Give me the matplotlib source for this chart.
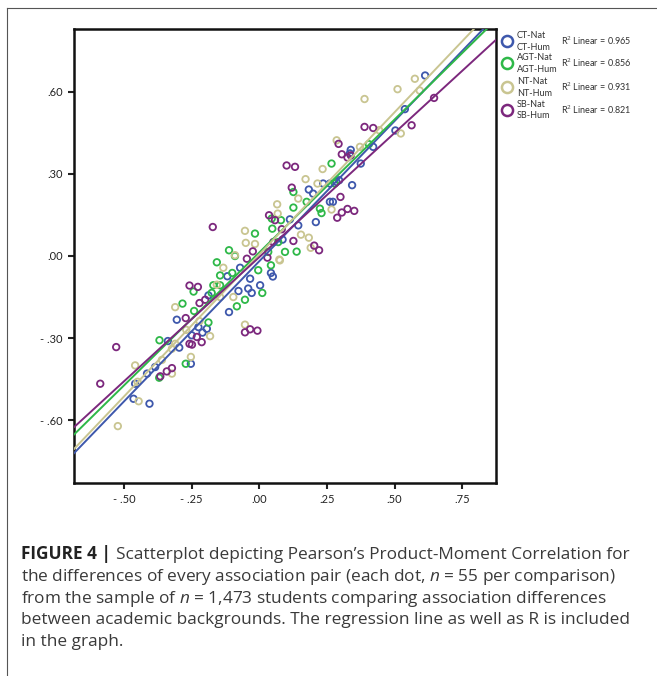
import numpy as np
import matplotlib
matplotlib.use("Agg")
import matplotlib.pyplot as plt
from matplotlib.lines import Line2D

# series data read from the scatterplot (Nat difference vs Hum difference)
ct_x = [0.613, 0.538, 0.503, 0.338, 0.421, 0.375, 0.183, 0.199, 0.236, 0.261, 0.295, 0.343,
        0.261, 0.272, 0.209, 0.113, 0.144, 0.086, 0.285, 0.335, -0.071, 0.043, 0.050, -0.118,
        0.003, -0.041, -0.028, -0.077, -0.188, -0.112, -0.305, -0.225, -0.194, -0.210, -0.250,
        -0.338, -0.296, -0.253, -0.385, -0.415, -0.459, -0.465, -0.406, -0.034]
ct_y = [0.660, 0.537, 0.459, 0.388, 0.399, 0.338, 0.243, 0.228, 0.265, 0.265, 0.277, 0.259,
        0.198, 0.198, 0.124, 0.134, 0.112, 0.060, 0.271, 0.375, -0.043, -0.062, -0.075, -0.074,
        -0.107, -0.119, -0.135, -0.128, -0.144, -0.205, -0.233, -0.260, -0.266, -0.280, -0.290,
        -0.311, -0.335, -0.394, -0.406, -0.430, -0.467, -0.522, -0.540, -0.083]

agt_x = [0.405, 0.267, 0.126, 0.279, 0.175, 0.126, 0.230, 0.080, 0.048, -0.016, 0.138, -0.112,
         -0.090, -0.157, 0.043, -0.004, -0.145, -0.100, -0.243, -0.145, 0.011, -0.053, -0.176,
         -0.284, -0.083, -0.241, -0.188, -0.369, -0.272, -0.370, -0.170, 0.070, 0.033, 0.095,
         0.224, 0.046]
agt_y = [0.409, 0.338, 0.234, 0.265, 0.198, 0.177, 0.157, 0.131, 0.100, 0.082, 0.016, 0.021,
         0.000, -0.023, -0.034, -0.052, -0.071, -0.062, -0.130, -0.107, -0.135, -0.160, -0.135,
         -0.174, -0.184, -0.201, -0.243, -0.308, -0.394, -0.445, -0.107, 0.051, 0.015, 0.015,
         0.173, 0.137]

nt_x = [0.575, 0.511, 0.593, 0.389, 0.523, 0.286, 0.372, 0.234, 0.171, 0.215, 0.144, 0.267,
        0.068, -0.053, -0.050, -0.016, 0.154, 0.183, 0.190, -0.133, -0.157, -0.096, -0.145,
        -0.311, -0.221, -0.053, -0.182, -0.270, -0.311, -0.323, -0.253, -0.459, -0.360, -0.323,
        -0.450, -0.446, -0.523, 0.076, 0.074, -0.090, 0.066, 0.443]
nt_y = [0.648, 0.610, 0.605, 0.574, 0.448, 0.423, 0.399, 0.318, 0.281, 0.265, 0.210, 0.170,
        0.155, 0.092, 0.048, 0.044, 0.078, 0.067, 0.030, -0.043, -0.105, -0.150, -0.150,
        -0.187, -0.238, -0.251, -0.293, -0.270, -0.321, -0.339, -0.369, -0.400, -0.380, -0.430,
        -0.460, -0.531, -0.622, -0.016, -0.013, 0.003, 0.189, 0.460]

sb_x = [0.646, 0.389, 0.421, 0.563, 0.293, 0.305, 0.326, 0.338, 0.101, 0.132, 0.120, 0.300,
        0.288, 0.305, 0.326, 0.351, -0.172, 0.036, 0.058, 0.083, 0.126, 0.203, 0.221, -0.046,
        -0.024, 0.030, -0.258, -0.227, -0.200, -0.221, -0.272, -0.053, -0.034, -0.007, -0.231,
        -0.213, -0.258, -0.529, -0.366, -0.342, -0.323, -0.588, 0.052, -0.249]
sb_y = [0.578, 0.472, 0.468, 0.478, 0.410, 0.372, 0.360, 0.368, 0.331, 0.326, 0.250, 0.216,
        0.140, 0.159, 0.172, 0.165, 0.106, 0.149, 0.131, 0.098, 0.055, 0.038, 0.021, -0.010,
        0.017, -0.006, -0.108, -0.113, -0.160, -0.172, -0.227, -0.279, -0.268, -0.273, -0.296,
        -0.315, -0.321, -0.333, -0.440, -0.422, -0.410, -0.467, 0.051, -0.324]

# linear fit lines as drawn in the figure (slope, intercept)
fit_slope = [1.025, 0.972, 1.039, 0.908]
fit_intercept = [-0.019, 0.013, 0.006, -0.004]

labels = [("CT-Nat", "CT-Hum"), ("AGT-Nat", "AGT-Hum"), ("NT-Nat", "NT-Hum"), ("SB-Nat", "SB-Hum")]
r2 = ["0.965", "0.856", "0.931", "0.821"]
colors = ["#3E58AC", "#2EB848", "#C9C591", "#7C287D"]

xticks = [-0.50, -0.25, 0.00, 0.25, 0.50, 0.75]
xtick_labels = ["- .50", "- .25", ".00", ".25", ".50", ".75"]
yticks = [0.60, 0.30, 0.00, -0.30, -0.60]
ytick_labels = [".60", ".30", ".00", "- .30", "- .60"]

W, H = 657, 676
plt.rcParams['font.family'] = ['Lato', 'DejaVu Sans']
plt.rcParams['mathtext.fontset'] = 'custom'
plt.rcParams['mathtext.rm'] = 'Open Sans'
plt.rcParams['mathtext.it'] = 'Open Sans:italic'

fig = plt.figure(figsize=(W / 100, H / 100), dpi=100)
ax = fig.add_axes([74 / W, 1 - 483 / H, (496 - 74) / W, (483 - 29) / H])

xs_all = [ct_x, agt_x, nt_x, sb_x]
ys_all = [ct_y, agt_y, nt_y, sb_y]
xlim = (-0.685, 0.875)

for xs, ys, c in zip(xs_all, ys_all, colors):
    ax.scatter(xs, ys, s=22, facecolors='none', edgecolors=c, linewidths=1.3, zorder=2)

for k, b, c in zip(fit_slope, fit_intercept, colors):
    lx = np.array(xlim)
    ax.plot(lx, k * lx + b, color=c, lw=1.4, zorder=3)

ax.set_xlim(xlim)
ax.set_ylim(-0.83, 0.83)
ax.set_xticks(xticks)
ax.set_xticklabels(xtick_labels)
ax.set_yticks(yticks)
ax.set_yticklabels(ytick_labels)
ax.tick_params(length=4, width=1.5, labelsize=8, pad=4, colors='#222222')
for s in ax.spines.values():
    s.set_linewidth(1.8)
    s.set_color('#111111')


def fx(px):
    return px / W


def fy(py):
    return 1 - py / H


# legend on the right
rows = [41, 63, 87, 110]
for (a, b2), r, c, py in zip(labels, r2, colors, rows):
    fig.add_artist(Line2D([fx(507)], [fy(py)], marker='o', ms=8, mfc='none', mec=c, mew=1.8))
    fig.text(fx(517), fy(py - 5.5), a, fontsize=6.5, va='center', ha='left', color='#333333')
    fig.text(fx(517), fy(py + 6), b2, fontsize=6.5, va='center', ha='left', color='#333333')
    fig.text(fx(561), fy(py), "R$^2$ Linear = " + r, fontsize=6.5, va='center', ha='left',
             color='#333333')

# outer frame
fig.add_artist(Line2D([fx(7), 1], [fy(8), fy(8)], lw=0.8, color='#555555'))
fig.add_artist(Line2D([fx(7), fx(7)], [fy(8), 0], lw=0.8, color='#555555'))

# caption
cap_font = ['Open Sans', 'DejaVu Sans']
cap_size = 12.4
t0 = fig.text(fx(21), fy(559), "FIGURE 4 | ", fontsize=cap_size, fontweight='bold', va='baseline',
              family=cap_font, color='#222222')
ax.annotate("Scatterplot depicting Pearson\u2019s Product-Moment Correlation for", xy=(1, 0),
            xycoords=t0, va='bottom', ha='left', fontsize=cap_size, family=cap_font,
            color='#3a3a3a', annotation_clip=False)
lines = [
    "the differences of every association pair (each dot, $n$ = 55 per comparison)",
    "from the sample of $n$ = 1,473 students comparing association differences",
    "between academic backgrounds. The regression line as well as R is included",
    "in the graph.",
]
for i, ln in enumerate(lines):
    fig.text(fx(21), fy(581 + i * 21.7), ln, fontsize=cap_size, va='baseline', family=cap_font,
             color='#3a3a3a')

fig.savefig("out.png", dpi=100)
